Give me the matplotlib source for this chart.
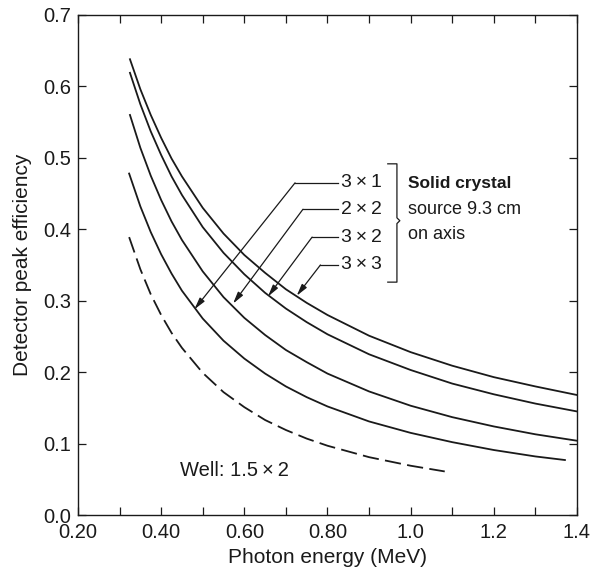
import matplotlib
matplotlib.use("Agg")
import matplotlib.pyplot as plt
from matplotlib.ticker import MultipleLocator, FixedLocator

plt.rcParams['font.family'] = ['Liberation Sans', 'DejaVu Sans']

e_3x3 = [0.325, 0.35, 0.375, 0.40, 0.425, 0.45, 0.50, 0.55, 0.60, 0.65, 0.70, 0.75, 0.80, 0.90, 1.00, 1.10, 1.20, 1.30, 1.40]
eff_3x3 = [0.638, 0.596, 0.560, 0.528, 0.499, 0.474, 0.430, 0.394, 0.364, 0.339, 0.316, 0.297, 0.280, 0.251, 0.228, 0.209, 0.193, 0.180, 0.168]

e_3x2 = [0.325, 0.35, 0.375, 0.40, 0.425, 0.45, 0.50, 0.55, 0.60, 0.65, 0.70, 0.75, 0.80, 0.90, 1.00, 1.10, 1.20, 1.30, 1.40]
eff_3x2 = [0.619, 0.575, 0.537, 0.504, 0.474, 0.448, 0.403, 0.367, 0.337, 0.311, 0.289, 0.270, 0.253, 0.225, 0.203, 0.184, 0.169, 0.156, 0.145]

e_2x2 = [0.325, 0.35, 0.375, 0.40, 0.425, 0.45, 0.50, 0.55, 0.60, 0.65, 0.70, 0.75, 0.80, 0.90, 1.00, 1.10, 1.20, 1.30, 1.40]
eff_2x2 = [0.560, 0.514, 0.475, 0.441, 0.411, 0.385, 0.341, 0.305, 0.276, 0.252, 0.231, 0.214, 0.198, 0.173, 0.153, 0.137, 0.124, 0.113, 0.104]

e_3x1 = [0.323, 0.35, 0.375, 0.40, 0.425, 0.45, 0.50, 0.55, 0.60, 0.65, 0.70, 0.75, 0.80, 0.90, 1.00, 1.10, 1.20, 1.30, 1.371]
eff_3x1 = [0.478, 0.432, 0.396, 0.365, 0.338, 0.314, 0.275, 0.244, 0.219, 0.198, 0.180, 0.165, 0.152, 0.131, 0.115, 0.102, 0.091, 0.082, 0.077]

e_well = [0.323, 0.35, 0.375, 0.40, 0.425, 0.45, 0.50, 0.55, 0.60, 0.65, 0.70, 0.75, 0.80, 0.90, 1.00, 1.082]
eff_well = [0.389, 0.344, 0.309, 0.280, 0.255, 0.234, 0.199, 0.172, 0.151, 0.133, 0.119, 0.107, 0.097, 0.081, 0.069, 0.061]

x_ticks = [0.2, 0.4, 0.6, 0.8, 1.0, 1.2, 1.4]
x_tick_labels = ["0.20", "0.40", "0.60", "0.80", "1.0", "1.2", "1.4"]
y_ticks = [0.0, 0.1, 0.2, 0.3, 0.4, 0.5, 0.6, 0.7]

# leader lines: label, label y, knee x, arrow tip
labels = ["3\u2009\u00d7\u20091", "2\u2009\u00d7\u20092", "3\u2009\u00d7\u20092", "3\u2009\u00d7\u20093"]
label_y = [0.465, 0.428, 0.389, 0.350]
knee_x = [0.722, 0.741, 0.763, 0.783]
tips = [(0.480, 0.288), (0.573, 0.296), (0.657, 0.306), (0.726, 0.307)]

ink = "#1a1a1a"
fig = plt.figure(figsize=(5.93, 5.75), dpi=100)
ax = fig.add_axes([0.1315, 0.1043, 0.8415, 0.8697])

lw = 1.3
ax.plot(e_3x3, eff_3x3, color=ink, lw=lw)
ax.plot(e_3x2, eff_3x2, color=ink, lw=lw)
ax.plot(e_2x2, eff_2x2, color=ink, lw=lw)
ax.plot(e_3x1, eff_3x1, color=ink, lw=lw)
ax.plot(e_well, eff_well, color=ink, lw=lw, dashes=(9, 3.5))

for lab, ly, kx, tip in zip(labels, label_y, knee_x, tips):
    ax.plot([0.826, kx], [ly, ly], color=ink, lw=0.9)
    ax.annotate("", xy=tip, xytext=(kx, ly),
                arrowprops=dict(arrowstyle="-|>,head_length=0.7,head_width=0.18",
                                color=ink, lw=0.9, shrinkA=0, shrinkB=0))
    ax.text(0.833, ly, lab, fontsize=14, va="center", ha="left", color=ink)

# bracket with a small point in the middle
ax.plot([0.945, 0.967, 0.967, 0.974, 0.967, 0.967, 0.945],
        [0.4916, 0.4916, 0.416, 0.412, 0.408, 0.326, 0.326], color=ink, lw=0.9)

ax.text(0.993, 0.458, "Solid crystal", fontsize=12.5, fontweight="bold", color=ink)
ax.text(0.993, 0.422, "source 9.3 cm", fontsize=13, color=ink)
ax.text(0.993, 0.386, "on axis", fontsize=13, color=ink)

ax.text(0.445, 0.062, "Well: 1.5\u2009\u00d7\u20092", fontsize=14.5, va="center", color=ink)

ax.set_xlim(0.2, 1.4)
ax.set_ylim(0.0, 0.7)
ax.xaxis.set_major_locator(FixedLocator(x_ticks))
ax.set_xticklabels(x_tick_labels)
ax.xaxis.set_minor_locator(MultipleLocator(0.1))
ax.yaxis.set_major_locator(FixedLocator(y_ticks))
ax.set_yticklabels([f"{v:.1f}" for v in y_ticks])
ax.tick_params(which="both", direction="in", top=True, right=True,
               length=5.5, width=0.9, labelsize=14.5, color=ink, labelcolor=ink)
ax.tick_params(axis="x", pad=6)
ax.tick_params(axis="y", pad=5)
for s in ax.spines.values():
    s.set_linewidth(1.0)
    s.set_color(ink)

ax.set_xlabel("Photon energy (MeV)", fontsize=15, color=ink, labelpad=4)
ax.set_ylabel("Detector peak efficiency", fontsize=15, color=ink, labelpad=8)

fig.savefig("out.png", dpi=100)
